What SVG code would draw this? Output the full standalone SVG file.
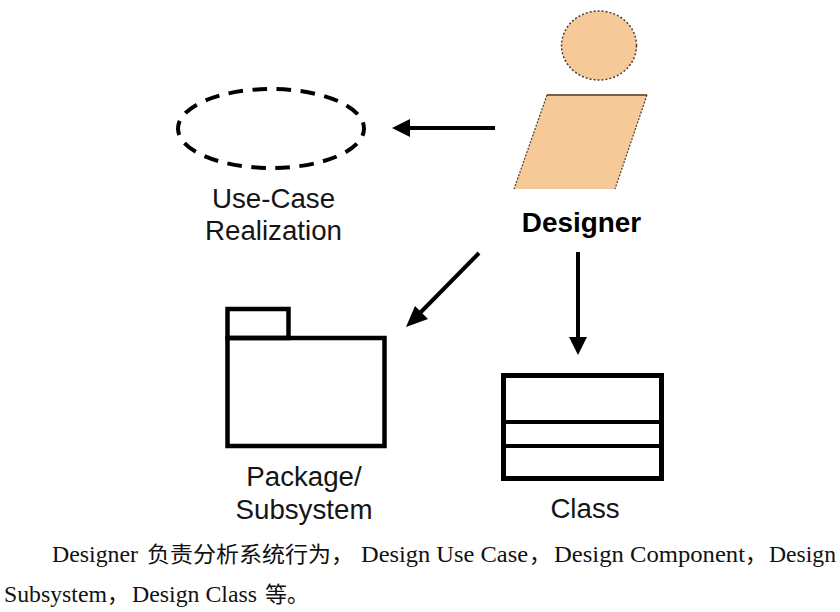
<svg xmlns="http://www.w3.org/2000/svg" width="840" height="612" viewBox="0 0 840 612">
<style>
.l{font-family:"Liberation Sans",Arial,sans-serif;font-size:27.700px;fill:#151515}
.s{font-family:"Liberation Serif","Times New Roman",serif;font-size:24px;fill:#111}
.c{font-family:"Noto Sans CJK SC",sans-serif;font-size:22px;fill:#111}
.o{fill:none;stroke:#000;stroke-width:4.500}
.a{fill:none;stroke:#000;stroke-width:4}
.h{fill:#000;stroke:none}
.f{fill:#f6c998}
</style>
<rect width="840" height="612" fill="#fff"/>
<g id="designer">
<ellipse class="f" cx="599" cy="45.500" rx="37.500" ry="34.500" stroke="#4a3a2a" stroke-width="1.500" stroke-dasharray="2 2"/>
<polygon class="f" points="547,95 647,95 615,189 514,189"/>
<path d="M547,95H647" stroke="#7a5f45" stroke-width="2" fill="none"/>
<path d="M647,95L615,189M547,95L514,189" stroke="#4a3a2a" stroke-width="1.200" stroke-dasharray="2 1.500" fill="none"/>
<text x="581.500" y="232" text-anchor="middle" style="font-family:'Liberation Sans',Arial,sans-serif;font-size:27.900px;font-weight:bold" fill="#000">Designer</text>
</g>
<g id="use-case-realization">
<ellipse cx="271" cy="128.500" rx="93" ry="39.500" fill="none" stroke="#000" stroke-width="4" stroke-dasharray="14.500 9.580" stroke-dashoffset="7"/>
<text class="l" x="273.500" y="208" text-anchor="middle">Use-Case</text>
<text class="l" x="273.500" y="240" text-anchor="middle">Realization</text>
</g>
<g id="package-subsystem">
<rect class="o" x="227.500" y="338" width="157" height="108"/>
<rect class="o" x="227.500" y="309" width="61" height="29"/>
<text class="l" x="304" y="486" text-anchor="middle">Package/</text>
<text class="l" x="304" y="519" text-anchor="middle">Subsystem</text>
</g>
<g id="class">
<rect x="503.500" y="375.500" width="158" height="103" fill="none" stroke="#000" stroke-width="5"/>
<path class="a" d="M504,422H661M504,446H661"/>
<text class="l" x="585" y="518" text-anchor="middle">Class</text>
</g>
<g id="connectors">
<path class="a" d="M495,128H408"/><polygon class="h" points="392,128 410,119 410,137"/>
<path class="a" d="M479,253L418,315"/><polygon class="h" points="406,327 415,306 428,319"/>
<path class="a" d="M578,252V340"/><polygon class="h" points="578,355 569,337 587,337"/>
</g>
<g id="caption">
<text class="s" x="52" y="562" textLength="86" lengthAdjust="spacingAndGlyphs">Designer</text>
<text class="c" x="147" y="562" textLength="207" lengthAdjust="spacingAndGlyphs">负责分析系统行为，</text>
<text class="s" x="361" y="562" textLength="167" lengthAdjust="spacingAndGlyphs">Design Use Case</text>
<text class="c" x="529" y="562">，</text>
<text class="s" x="554" y="562" textLength="191" lengthAdjust="spacingAndGlyphs">Design Component</text>
<text class="c" x="745" y="562">，</text>
<text class="s" x="769" y="562" textLength="67" lengthAdjust="spacingAndGlyphs">Design</text>
<text class="s" x="4" y="602" textLength="103" lengthAdjust="spacingAndGlyphs">Subsystem</text>
<text class="c" x="107" y="602">，</text>
<text class="s" x="132" y="602" textLength="125" lengthAdjust="spacingAndGlyphs">Design Class</text>
<text class="c" x="265" y="602">等。</text>
</g>
</svg>
